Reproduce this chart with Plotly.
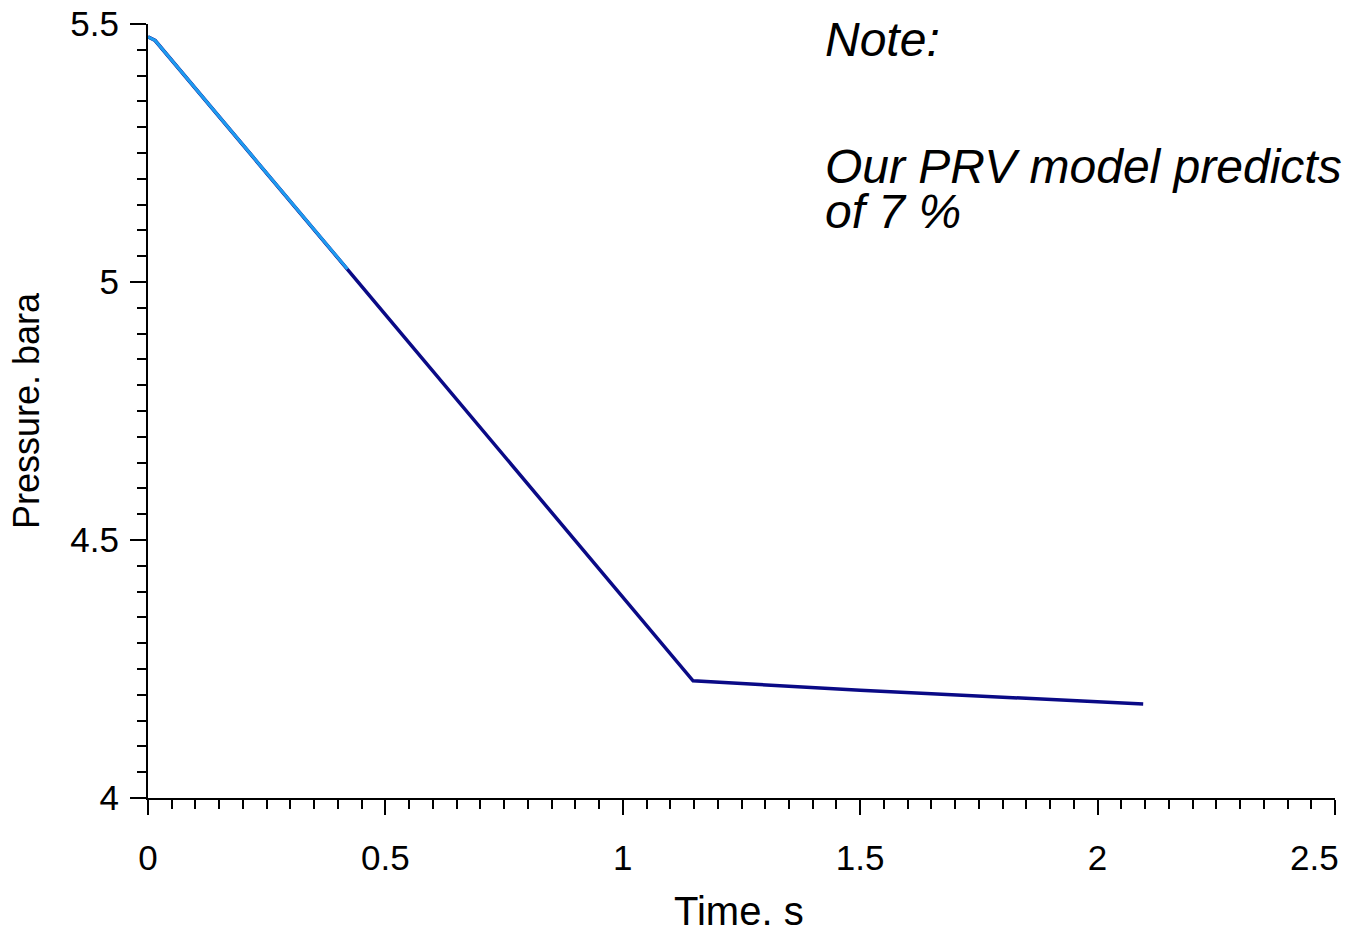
import plotly.graph_objects as go

# Model (navy) series
time_model = [0.0, 0.015, 0.5, 1.0, 1.148, 1.5, 1.8, 2.096]
pressure_model = [5.475, 5.468, 4.937, 4.389, 4.227, 4.209, 4.196, 4.182]

# Measured (light blue) series, visible on the early part of the decline
time_meas = [0.0, 0.015, 0.42]
pressure_meas = [5.475, 5.468, 5.025]

x_ticks = [0, 0.5, 1, 1.5, 2, 2.5]
x_tick_text = ["0", "0.5", "1", "1.5", "2", "2.5"]
y_ticks = [4, 4.5, 5, 5.5]
y_tick_text = ["4", "4.5", "5", "5.5"]

W, H = 1345, 933
L, R, T, B = 148, 10, 24, 135
pw, ph = W - L - R, H - T - B

def px_x(p):
    return (p - L) / pw

def px_y(p):
    return (H - B - p) / ph

# the last x label is drawn as an annotation, nudged left to stay in the window
x_tick_labels = list(x_tick_text[:-1]) + [""]

fig = go.Figure()
fig.add_trace(go.Scatter(x=time_model, y=pressure_model, mode="lines",
                         line=dict(color="#0a0a86", width=3.5), showlegend=False))
fig.add_trace(go.Scatter(x=time_meas, y=pressure_meas, mode="lines",
                         line=dict(color="#1e9bf0", width=3), showlegend=False))

font_family = "Liberation Sans, Arial, sans-serif"

fig.update_layout(
    template="none",
    width=W, height=H, autosize=False,
    margin=dict(l=L, r=R, t=T, b=B, pad=0),
    paper_bgcolor="white", plot_bgcolor="white",
    font=dict(family=font_family, color="black", size=35),
    xaxis=dict(range=[0, 2.5], tickvals=x_ticks, ticktext=x_tick_labels,
               automargin=False, ticklabeloverflow="allow",
               showgrid=False, zeroline=False, showline=True, linecolor="black", linewidth=2,
               ticks="outside", ticklen=15, tickwidth=2, tickcolor="black",
               tickfont=dict(size=35), ticklabelstandoff=13,
               minor=dict(dtick=0.05, ticks="outside", ticklen=9, tickwidth=2, tickcolor="black", showgrid=False),
               fixedrange=True),
    yaxis=dict(range=[4, 5.5], tickvals=y_ticks, ticktext=y_tick_text,
               automargin=False, ticklabeloverflow="allow",
               showgrid=False, zeroline=False, showline=True, linecolor="black", linewidth=2,
               ticks="outside", ticklen=16, tickwidth=2, tickcolor="black",
               tickfont=dict(size=35), ticklabelstandoff=4,
               minor=dict(dtick=0.05, ticks="outside", ticklen=9, tickwidth=2, tickcolor="black", showgrid=False),
               fixedrange=True),
)

annotations = [
    dict(text=x_tick_text[-1], x=px_x(1341), y=px_y(858), xref="paper", yref="paper",
         xanchor="right", yanchor="middle", showarrow=False, font=dict(size=35)),
    dict(text="Time. s", x=px_x(739), y=px_y(911), xref="paper", yref="paper",
         xanchor="center", yanchor="middle", showarrow=False, font=dict(size=40)),
    dict(text="Pressure. bara", x=px_x(27), y=px_y(410), xref="paper", yref="paper",
         xanchor="center", yanchor="middle", textangle=-90, showarrow=False, font=dict(size=36)),
    dict(text="<i>Note:</i>", x=px_x(823), y=px_y(39), xref="paper", yref="paper",
         xanchor="left", yanchor="middle", showarrow=False, font=dict(size=48)),
    dict(text="<i>Our PRV model predicts</i>", x=px_x(823), y=px_y(166), xref="paper", yref="paper",
         xanchor="left", yanchor="middle", showarrow=False, font=dict(size=48)),
    dict(text="<i>of 7 %</i>", x=px_x(823), y=px_y(211), xref="paper", yref="paper",
         xanchor="left", yanchor="middle", showarrow=False, font=dict(size=48)),
]
fig.update_layout(annotations=annotations)

fig.write_html("out.html")
